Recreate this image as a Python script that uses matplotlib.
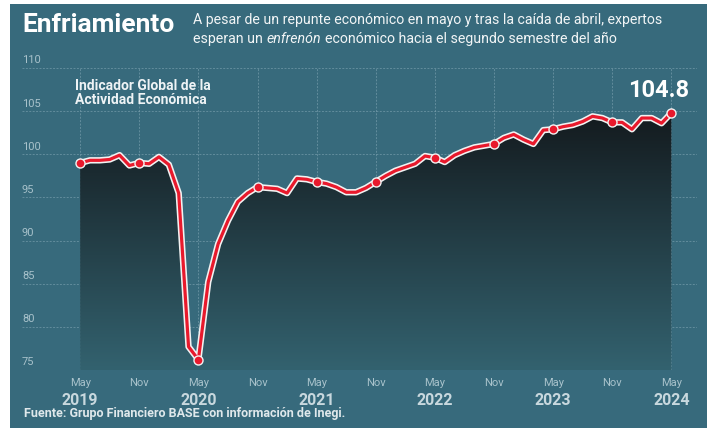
import numpy as np
import matplotlib
matplotlib.use("Agg")
import matplotlib.pyplot as plt
import matplotlib.patheffects as pe
from matplotlib.patches import Polygon
from matplotlib.colors import to_rgb

plt.rcParams['font.family'] = ['Roboto', 'DejaVu Sans']

# monthly index, May 2019 .. May 2024
igae = [99.0, 99.3, 99.3, 99.4, 99.9, 98.7, 99.0, 98.9, 99.7, 98.8,
        95.5, 77.7, 76.2, 85.2, 89.6, 92.3, 94.5, 95.5, 96.2, 96.1,
        96.0, 95.5, 97.2, 97.1, 96.8, 96.6, 96.2, 95.6, 95.6, 96.1,
        96.8, 97.5, 98.1, 98.5, 98.9, 99.8, 99.6, 99.1, 99.9, 100.4,
        100.8, 101.0, 101.2, 101.9, 102.3, 101.7, 101.2, 102.8, 102.9, 103.2,
        103.4, 103.8, 104.4, 104.2, 103.7, 103.7, 102.9, 104.2, 104.2, 103.6,
        104.8]
month_labels = ['May', 'Nov'] * 5 + ['May']
year_labels = ['2019', '2020', '2021', '2022', '2023', '2024']
y_ticks = [75, 80, 85, 90, 95, 100, 105, 110]

bg = '#376a7c'
x = np.arange(len(igae))
y = np.array(igae)

fig = plt.figure(figsize=(7.13, 4.28), dpi=100, facecolor='white')
# teal panel behind everything
panel = fig.add_axes([10 / 713, 0, 697 / 713, 424 / 428], zorder=-1)
panel.set_facecolor(bg)
panel.set_xticks([])
panel.set_yticks([])
for s in panel.spines.values():
    s.set_visible(False)

ax = fig.add_axes([22 / 713, 1 - 370 / 428, 675 / 713, 302 / 428])
ax.set_facecolor('none')
ax.set_xlim(-5.9, 62.6)
ax.set_ylim(75, 110)
for s in ax.spines.values():
    s.set_visible(False)
ax.set_xticks([])
ax.set_yticks([])

# grid
grid_kw = dict(color='#7fa4b2', lw=0.7, ls=(0, (2, 1.5)), alpha=0.6, zorder=1)
for v in y_ticks:
    ax.axhline(v, **grid_kw)
    ax.text(0.0, v + 0.3, str(v), transform=ax.get_yaxis_transform(),
            ha='left', va='bottom', fontsize=8, color='#a8c2cb')
tick_pos = np.arange(0, len(igae), 6)
for xp in tick_pos:
    ax.axvline(xp, **grid_kw)

# gradient fill under the line
top_c = np.array(to_rgb('#141b1f'))
bot_c = np.array(to_rgb('#33626f'))
t = np.linspace(0, 1, 256)[:, None]
grad = top_c * (1 - t) + bot_c * t
grad = np.clip(grad, 0, 1)[:, None, :].repeat(2, axis=1)
img = ax.imshow(grad, extent=[x[0], x[-1], 75, 104.5], aspect='auto',
                origin='upper', zorder=2)
poly = Polygon(np.column_stack([np.r_[x[0], x, x[-1]], np.r_[75, y, 75]]),
               closed=True, transform=ax.transData, facecolor='none',
               edgecolor='none')
ax.add_patch(poly)
img.set_clip_path(poly)

# line
ax.plot(x, y, color='#e8192c', lw=2.3, zorder=4, solid_joinstyle='round',
        path_effects=[pe.Stroke(linewidth=4.6, foreground='#f2f2f2'), pe.Normal()])
ax.plot(x[tick_pos], y[tick_pos], 'o', color='#e8192c', ms=6.5,
        mec='#f2f2f2', mew=1.0, zorder=5)

# x labels
for xp, lab in zip(tick_pos, month_labels):
    ax.text(xp, -0.025, lab, transform=ax.get_xaxis_transform(),
            ha='center', va='top', fontsize=8, color='#a8c2cb')
for xp, lab in zip(tick_pos[::2], year_labels):
    ax.text(xp, -0.075, lab, transform=ax.get_xaxis_transform(),
            ha='center', va='top', fontsize=11.5, fontweight='bold',
            color='#c8d8de')

ax.text(-0.5, 108.7, 'Indicador Global de la\nActividad Económica',
        ha='left', va='top', fontsize=10, fontweight='bold',
        color='#eef3f5', linespacing=1.0)
ax.text(x[-1] - 1.3, y[-1] + 1.3, '104.8', ha='center', va='bottom',
        fontsize=17, fontweight='bold', color='white')

fig.text(22 / 713, 1 - 25 / 428, 'Enfriamiento', ha='left', va='center',
         fontsize=19, fontweight='bold', color='white')
sub_kw = dict(ha='left', va='center', fontsize=10.2, color='#f2f5f6')
fig.text(193 / 713, 1 - 20 / 428,
         'A pesar de un repunte económico en mayo y tras la caída de abril, expertos',
         **sub_kw)
t1 = fig.text(193 / 713, 1 - 39 / 428, 'esperan un', **sub_kw)
fig.canvas.draw()
r = fig.canvas.get_renderer()
bb = t1.get_window_extent(r)
t2 = fig.text(bb.x1 / fig.bbox.width + 0.005, 1 - 39 / 428, 'enfrenón',
              style='italic', **sub_kw)
bb2 = t2.get_window_extent(r)
fig.text(bb2.x1 / fig.bbox.width + 0.005, 1 - 39 / 428,
         'económico hacia el segundo semestre del año', **sub_kw)

fig.text(24 / 713, 1 - 413 / 428,
         'Fuente: Grupo Financiero BASE con información de Inegi.',
         ha='left', va='center', fontsize=9, fontweight='bold',
         color='#dfe8eb')

fig.savefig('out.png', dpi=100, facecolor='white')
